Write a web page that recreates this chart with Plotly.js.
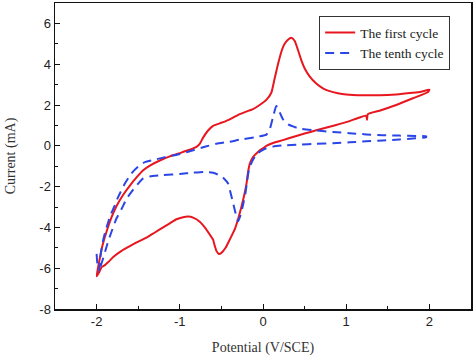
<!DOCTYPE html>
<html>
<head>
<meta charset="utf-8">
<script src="https://cdn.plot.ly/plotly-3.0.1.min.js"></script>
<style>html,body{margin:0;padding:0;background:#fff;}#chart{width:474px;height:356px;}</style>
</head>
<body>
<div id="chart"></div>
<script>
// First cycle (red, solid): potential (V/SCE) and current (mA)
const firstX = [-2.0,-1.97,-1.93,-1.88,-1.82,-1.76,-1.68,-1.6,-1.52,-1.44,-1.36,-1.24,-1.12,-1.0,-0.9,-0.8,-0.76,-0.72,-0.66,-0.6,-0.52,-0.44,-0.36,-0.28,-0.2,-0.12,-0.04,0.04,0.1,0.14,0.18,0.22,0.26,0.3,0.34,0.38,0.42,0.46,0.5,0.56,0.64,0.72,0.8,0.9,1.0,1.2,1.4,1.6,1.8,1.9,2.0,
  1.98,1.8,1.6,1.4,1.26,1.25,1.24,1.1,1.0,0.8,0.64,0.5,0.36,0.24,0.12,0.04,0.0,-0.06,-0.12,-0.16,-0.18,-0.2,-0.23,-0.26,-0.3,-0.34,-0.4,-0.45,-0.5,-0.53,-0.56,-0.58,-0.6,-0.64,-0.7,-0.76,-0.84,-0.9,-0.96,-1.04,-1.12,-1.2,-1.3,-1.4,-1.5,-1.6,-1.7,-1.8,-1.86,-1.9,-1.94,-1.97,-2.0];
const firstY = [-6.4,-5.7,-4.9,-4.2,-3.5,-2.95,-2.4,-1.95,-1.55,-1.2,-0.97,-0.72,-0.52,-0.36,-0.22,-0.05,0.1,0.4,0.75,0.98,1.1,1.22,1.38,1.55,1.68,1.8,2.0,2.25,2.6,3.3,4.0,4.6,5.0,5.2,5.3,5.15,4.7,4.2,3.8,3.4,3.05,2.82,2.68,2.58,2.52,2.48,2.48,2.52,2.6,2.65,2.75,
  2.62,2.33,2.0,1.72,1.55,1.28,1.48,1.3,1.16,0.93,0.76,0.6,0.43,0.28,0.14,0.0,-0.12,-0.3,-0.55,-0.9,-1.3,-1.9,-2.5,-3.0,-3.6,-4.1,-4.6,-5.0,-5.25,-5.3,-5.15,-4.9,-4.6,-4.35,-4.0,-3.72,-3.52,-3.47,-3.5,-3.6,-3.8,-4.0,-4.25,-4.5,-4.7,-4.92,-5.15,-5.45,-5.7,-5.85,-5.95,-6.2,-6.4];

// Tenth cycle (blue, dashed)
const tenthX = [-2.0,-1.99,-1.97,-1.95,-1.92,-1.88,-1.84,-1.78,-1.74,-1.66,-1.58,-1.5,-1.42,-1.3,-1.2,-1.0,-0.84,-0.7,-0.56,-0.4,-0.28,-0.1,0.04,0.08,0.12,0.16,0.2,0.24,0.3,0.44,0.64,0.84,1.04,1.24,1.44,1.64,1.84,1.96,
  1.96,1.8,1.64,1.44,1.24,1.04,0.84,0.64,0.44,0.24,0.12,0.04,0.0,-0.06,-0.1,-0.14,-0.17,-0.19,-0.21,-0.24,-0.27,-0.3,-0.33,-0.36,-0.39,-0.42,-0.47,-0.52,-0.6,-0.7,-0.84,-1.0,-1.2,-1.36,-1.44,-1.5,-1.56,-1.64,-1.7,-1.76,-1.82,-1.87,-1.92,-1.96,-1.98];
const tenthY = [-5.3,-5.8,-6.1,-5.3,-4.6,-4.0,-3.47,-2.9,-2.5,-1.85,-1.35,-1.02,-0.8,-0.68,-0.58,-0.4,-0.22,-0.05,0.1,0.2,0.3,0.42,0.55,0.8,1.4,1.95,1.65,1.3,1.05,0.84,0.75,0.68,0.62,0.56,0.52,0.5,0.48,0.47,
  0.42,0.36,0.31,0.26,0.22,0.17,0.13,0.1,0.06,0.02,-0.04,-0.12,-0.2,-0.35,-0.55,-0.85,-1.2,-1.7,-2.3,-2.9,-3.4,-3.7,-3.3,-2.8,-2.3,-1.85,-1.6,-1.45,-1.32,-1.28,-1.32,-1.38,-1.44,-1.5,-1.6,-1.85,-2.15,-2.6,-3.1,-3.55,-4.2,-4.8,-5.5,-6.0,-6.2];

const seriesNames = ["The first cycle", "The tenth cycle"];
const xTickVals = [-2,-1,0,1,2];
const yTickVals = [-8,-6,-4,-2,0,2,4,6];

const serif = "Liberation Serif, Times New Roman, serif";
const sans = "Liberation Sans, Arial, sans-serif";

const traces = [
  {x:firstX, y:firstY, mode:'lines', name:seriesNames[0], line:{color:'#e8161e', width:2, shape:'spline', smoothing:0.5}},
  {x:tenthX, y:tenthY, mode:'lines', name:seriesNames[1], line:{color:'#2b45e6', width:2, dash:'9px,6px', shape:'spline', smoothing:0.5}}
];

const axisCommon = {
  showline:true, mirror:true, linecolor:'#111', linewidth:1.5,
  ticks:'inside', ticklen:5, tickwidth:1, tickcolor:'#111',
  showgrid:false, zeroline:false,
  tickfont:{family:sans, size:13, color:'#222'}
};

const layout = {
  width:474, height:356,
  margin:{l:55, r:3, t:3, b:47},
  paper_bgcolor:'#fff', plot_bgcolor:'#fff',
  showlegend:true,
  legend:{x:0.635, y:0.957, xanchor:'left', yanchor:'top',
    bordercolor:'#333', borderwidth:1, bgcolor:'#fff',
    font:{family:serif, size:13.5, color:'#222'}, tracegroupgap:0},
  xaxis:Object.assign({}, axisCommon, {
    range:[-2.5,2.5], tickvals:xTickVals, ticktext:xTickVals.map(String),
    minor:{dtick:0.5, ticks:'inside', ticklen:3, tickcolor:'#111'},
    title:{text:'Potential (V/SCE)', font:{family:serif, size:14, color:'#333'}, standoff:14}
  }),
  yaxis:Object.assign({}, axisCommon, {
    range:[-8,7], tickvals:yTickVals, ticktext:yTickVals.map(String),
    minor:{dtick:1, ticks:'inside', ticklen:3, tickcolor:'#111'},
    title:{text:'Current (mA)', font:{family:serif, size:14, color:'#333'}, standoff:20}
  })
};

Plotly.newPlot('chart', traces, layout, {staticPlot:true, displayModeBar:false});
</script>
</body>
</html>
